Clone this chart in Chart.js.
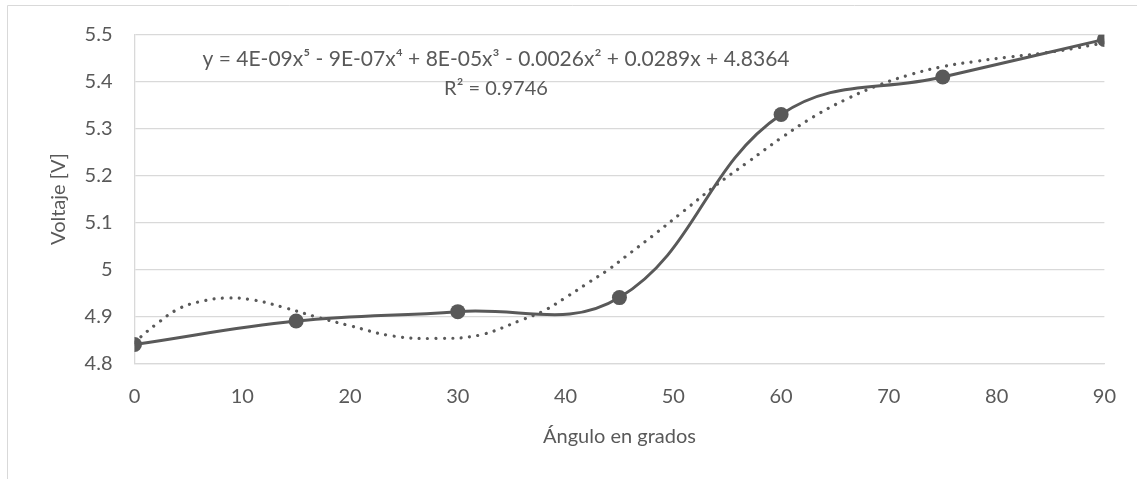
<!DOCTYPE html>
<html>
<head>
<meta charset="utf-8">
<script src="https://cdn.jsdelivr.net/npm/chart.js@4"></script>
<style>
  html, body { margin: 0; padding: 0; background: #ffffff; }
  #wrap { width: 1137px; height: 479px; }
</style>
</head>
<body>
<div id="wrap"><canvas id="c" width="1137" height="479"></canvas></div>
<script>
// Measured voltage at each angle
const angles = [0, 15, 30, 45, 60, 75, 90];
const voltages = [4.84, 4.89, 4.91, 4.94, 5.33, 5.41, 5.49];

// 5th-order polynomial trendline, sampled along the angle range
const trendAngles = [0, 2, 4, 6, 8.5, 11, 14, 17, 20, 24, 28, 32, 36, 38, 40, 42, 44, 46, 48, 51, 54, 57, 60, 63, 66, 69, 72, 75, 78, 81, 84, 87, 90];
const trendVoltages = [4.845, 4.883, 4.915, 4.931, 4.939, 4.935, 4.918, 4.898, 4.880, 4.858, 4.853, 4.860, 4.893, 4.912, 4.940, 4.970, 5.000, 5.035, 5.070, 5.125, 5.180, 5.230, 5.280, 5.325, 5.362, 5.392, 5.415, 5.432, 5.443, 5.452, 5.460, 5.470, 5.483];

// Axis settings and texts
const xTicks = { min: 0, max: 90, step: 10 };
const yTicks = { min: 4.8, max: 5.5, step: 0.1 };
const xTitle = 'Ángulo en grados';
const yTitle = 'Voltaje [V]';
const equationText = 'y = 4E-09x⁵ - 9E-07x⁴ + 8E-05x³ - 0.0026x² + 0.0289x + 4.8364';
const r2Text = 'R² = 0.9746';

const INK = '#595959';
const GRID = '#d9d9d9';
const FONT = 'Lato, "Open Sans", sans-serif';

const toPoints = (xs, ys) => xs.map((x, i) => ({ x: x, y: ys[i] }));

// Outer frame of the chart area plus the trendline equation
const decorations = {
  id: 'decorations',
  beforeDraw(chart) {
    const ctx = chart.ctx;
    ctx.save();
    ctx.strokeStyle = GRID;
    ctx.lineWidth = 1;
    ctx.beginPath();
    ctx.moveTo(7.5, chart.height);
    ctx.lineTo(7.5, 5.5);
    ctx.lineTo(chart.width, 5.5);
    ctx.stroke();
    ctx.restore();
  },
  afterDatasetsDraw(chart) {
    const ctx = chart.ctx;
    ctx.save();
    ctx.fillStyle = INK;
    ctx.textAlign = 'center';
    ctx.textBaseline = 'alphabetic';
    const cx = 496;
    ctx.font = '21px ' + FONT;
    ctx.fillText(equationText, cx, 66);
    ctx.font = '20px ' + FONT;
    ctx.fillText(r2Text, cx, 95);
    ctx.restore();
  }
};

new Chart(document.getElementById('c'), {
  type: 'scatter',
  data: {
    datasets: [
      {
        label: 'Voltaje',
        data: toPoints(angles, voltages),
        showLine: true,
        tension: 0.4,
        borderColor: INK,
        backgroundColor: INK,
        borderWidth: 3,
        pointRadius: 7.5,
        pointHoverRadius: 7.5,
        pointBackgroundColor: INK,
        pointBorderWidth: 0,
        order: 0
      },
      {
        label: 'Poly. (Voltaje)',
        data: toPoints(trendAngles, trendVoltages),
        showLine: true,
        tension: 0.4,
        borderColor: INK,
        borderWidth: 3.2,
        borderDash: [0.001, 8.4],
        borderCapStyle: 'round',
        pointRadius: 0,
        pointHoverRadius: 0,
        order: 1
      }
    ]
  },
  options: {
    responsive: false,
    animation: false,
    events: [],
    layout: { padding: { left: 0, right: 30, top: 34.7, bottom: 0 } },
    plugins: {
      legend: { display: false },
      tooltip: { enabled: false }
    },
    scales: {
      x: {
        type: 'linear',
        min: xTicks.min,
        max: xTicks.max,
        afterFit(scale) { scale.height = 115.7; },
        grid: { display: false, drawTicks: false },
        border: { display: true, color: GRID, width: 1.3 },
        ticks: {
          stepSize: xTicks.step,
          color: INK,
          padding: 21,
          font: { family: FONT, size: 20 }
        },
        title: {
          display: true,
          text: xTitle,
          color: INK,
          font: { family: FONT, size: 20 },
          padding: { top: 0, bottom: 30 }
        }
      },
      y: {
        type: 'linear',
        min: yTicks.min,
        max: yTicks.max,
        afterFit(scale) { scale.width = 134.5; },
        grid: { display: true, color: GRID, lineWidth: 1.3, drawTicks: false },
        border: { display: true, color: GRID, width: 1.3 },
        ticks: {
          stepSize: yTicks.step,
          color: INK,
          padding: 22,
          font: { family: FONT, size: 20 },
          callback: (v) => String(Number(v.toFixed(1)))
        },
        title: {
          display: true,
          text: yTitle,
          color: INK,
          font: { family: FONT, size: 20 },
          padding: { top: 47, bottom: 0 }
        }
      }
    }
  },
  plugins: [decorations]
});
</script>
</body>
</html>
